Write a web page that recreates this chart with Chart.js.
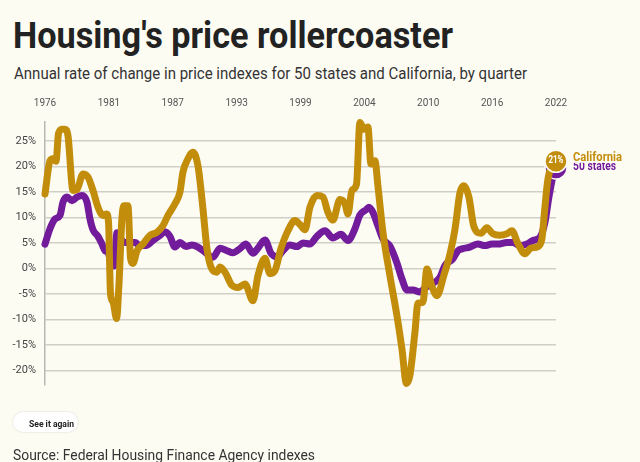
<!DOCTYPE html>
<html><head><meta charset="utf-8">
<script src="https://cdn.jsdelivr.net/npm/chart.js@4.4.0/dist/chart.umd.min.js"></script>
<style>
html,body{margin:0;padding:0;background:#FDFCF3;width:640px;height:462px;overflow:hidden;font-family:Roboto, sans-serif;}
.t{position:absolute;white-space:nowrap;transform-origin:0 0;line-height:1;display:inline-block;}
#title{left:13px;top:16.7px;font-size:37.5px;font-weight:700;color:#222;}
#sub{left:14px;top:65.5px;font-size:16px;color:#333;}
#src{left:13px;top:447.5px;font-size:14px;color:#333;}
#btn{position:absolute;left:13px;top:412px;width:65px;height:20px;border-radius:10px;background:#fff;box-shadow:0 0 2px rgba(0,0,0,0.18);}
#btnt{left:29px;top:418.8px;font-size:9.4px;font-weight:700;color:#222;}
#wrap{position:absolute;left:0;top:92px;width:640px;height:320px;}
canvas{display:block;}
</style></head>
<body>
<div id="title" class="t">Housing's price rollercoaster</div>
<div id="sub" class="t">Annual rate of change in price indexes for 50 states and California, by quarter</div>
<div id="wrap"><canvas id="c" width="640" height="320"></canvas></div>
<div id="btn"></div>
<div id="btnt" class="t">See it again</div>
<div id="src" class="t">Source: Federal Housing Finance Agency indexes</div>
<script>
// ---- data ----
const seriesNames = ['California', '50 states'];
const caYears = [1976.00,1976.45,1976.72,1976.99,1977.22,1977.53,1977.80,1978.07,1978.52,1978.88,1979.42,1979.87,1980.32,1980.77,1981.22,1981.54,1981.72,1981.90,1982.12,1982.44,1982.66,1982.93,1983.11,1983.47,1983.70,1983.92,1984.28,1984.82,1985.45,1986.08,1986.62,1987.07,1987.70,1988.15,1988.42,1988.87,1989.32,1989.77,1990.22,1990.58,1991.03,1991.48,1991.75,1992.20,1992.83,1993.37,1994.00,1994.72,1995.17,1995.80,1996.25,1996.70,1997.24,1997.87,1998.50,1999.04,1999.40,1999.85,2000.48,2001.02,2001.47,2001.92,2002.55,2003.00,2003.27,2003.63,2004.04,2004.35,2004.71,2005.07,2005.34,2005.70,2005.97,2006.42,2007.05,2007.68,2008.13,2008.54,2008.85,2009.30,2009.57,2010.02,2010.38,2010.83,2011.28,2011.91,2012.45,2012.90,2013.35,2013.71,2014.16,2014.61,2015.24,2015.78,2016.32,2016.95,2017.58,2018.03,2018.57,2019.20,2019.74,2020.37,2020.73,2021.00,2021.27,2021.63,2022.00];
const caValues = [14.6,21.1,21.5,21.0,26.5,27.3,27.3,26.0,15.3,15.5,18.5,17.9,15.3,12.0,10.4,10.7,9.0,-5.0,-6.5,-9.8,-3.0,10.0,12.3,12.3,2.0,1.0,3.5,4.8,6.5,7.1,8.4,10.4,12.7,15.0,18.9,21.5,22.8,20.1,11.7,3.9,-0.1,-0.7,0.3,-0.7,-3.3,-3.7,-3.0,-6.3,-1.4,2.0,-1.0,-0.4,3.9,7.4,9.4,8.4,7.6,12.0,14.3,14.0,11.0,9.5,13.5,12.7,10.7,15.3,16.5,28.6,27.3,27.7,20.5,21.1,16.2,7.1,-1.4,-9.2,-15.7,-22.5,-20.9,-12.5,-6.8,-6.6,-0.1,-3.5,-5.3,-1.3,2.8,7.6,14.8,16.2,14.0,8.2,6.9,8.0,6.8,6.5,6.8,7.4,4.9,2.9,4.0,4.3,5.8,12.0,17.5,20.0,21.0];
const usYears = [1976.00,1976.45,1976.90,1977.35,1977.62,1977.98,1978.43,1978.88,1979.33,1979.78,1980.05,1980.32,1980.77,1981.13,1981.40,1981.67,1981.94,1982.21,1982.48,1982.75,1983.20,1984.10,1984.55,1985.09,1985.72,1986.35,1986.80,1987.25,1987.70,1988.15,1988.69,1989.23,1989.77,1990.40,1991.12,1991.75,1992.38,1992.92,1993.55,1994.09,1994.72,1995.17,1995.80,1996.34,1996.88,1997.42,1998.05,1998.68,1999.22,1999.85,2000.48,2001.20,2001.92,2002.64,2003.27,2003.90,2004.35,2004.89,2005.16,2005.52,2005.97,2006.42,2007.05,2007.68,2008.13,2008.58,2009.12,2009.75,2010.20,2010.83,2011.55,2012.00,2012.72,2013.17,2013.62,2014.25,2014.97,2015.60,2016.23,2016.77,2017.58,2018.12,2018.75,2019.38,2019.92,2020.55,2021.00,2021.36,2021.72,2022.00];
const usValues = [4.8,7.8,9.7,10.4,13.0,14.0,13.3,14.0,14.3,13.0,9.7,7.6,6.3,4.8,3.5,3.2,1.0,0.5,7.0,6.0,5.1,5.1,4.5,4.5,5.5,6.5,7.2,6.3,4.2,5.1,4.3,4.6,4.2,3.2,2.2,4.0,3.5,3.1,3.9,4.8,3.0,4.0,5.6,3.0,2.3,3.5,4.6,4.3,5.0,4.8,6.3,7.4,6.0,6.7,5.5,7.8,10.5,11.5,12.0,11.0,8.4,5.8,4.4,1.1,-2.0,-4.2,-4.2,-4.6,-3.8,-3.0,-1.7,0.6,1.9,3.5,3.9,4.2,4.8,4.5,4.8,4.8,5.1,5.1,4.5,4.8,5.5,6.1,9.0,14.0,18.0,19.7];
const xTickLabels = ['1976','1981','1987','1993','1999','2004','2010','2016','2022'];
const yTickValues = [-20,-15,-10,-5,0,5,10,15,20,25];

const GOLD = '#C38D0C', PURPLE = '#721C9C', BG = '#FDFCF3';

function fit(id, w){ const e=document.getElementById(id); const r=e.getBoundingClientRect().width; e.style.transform='scaleX('+(w/r)+')'; }
fit('title', 440); fit('sub', 513); fit('src', 302); fit('btnt', 45);

const toPts = (xs, ys) => xs.map((x, i) => ({x: x, y: ys[i]}));
const xMin = +xTickLabels[0], xMax = +xTickLabels[xTickLabels.length-1];

const endLabels = {
  id: 'endLabels',
  afterDatasetsDraw(chart) {
    const c = chart.ctx;
    const ca = chart.getDatasetMeta(0).data; const us = chart.getDatasetMeta(1).data;
    const pc = ca[ca.length-1], pu = us[us.length-1];
    c.save();
    c.textBaseline = 'middle'; c.textAlign = 'left';
    c.font = 'bold 12px Roboto';
    c.fillStyle = PURPLE;
    c.fillText(seriesNames[1], pu.x + 17, pu.y - 1, 43);
    c.fillStyle = BG;
    c.fillRect(pc.x + 13, pc.y - 10, 60, 11.5);
    c.fillStyle = GOLD;
    c.fillText(seriesNames[0], pc.x + 17, pc.y - 3, 49);
    c.textAlign = 'center';
    c.fillStyle = '#fff';
    c.font = 'bold 10px Roboto';
    c.fillText(Math.round(caValues[caValues.length-1]) + '%', pc.x, pc.y - 1, 15);
    c.restore();
  }
};

const lastR = (n) => (ctx) => ctx.dataIndex === n - 1 ? 11 : 0;
const pad = { left: 0, right: 84, top: 0, bottom: 27 };

const chart = new Chart(document.getElementById('c'), {
  type: 'line',
  data: { datasets: [
    { label: seriesNames[0], data: toPts(caYears, caValues), borderColor: GOLD, backgroundColor: GOLD,
      borderWidth: 7, pointRadius: lastR(caValues.length), pointHoverRadius: 0, pointBorderColor: BG, pointBorderWidth: 1.5,
      cubicInterpolationMode: 'monotone', borderCapStyle: 'round', borderJoinStyle: 'round', order: 1, clip: false },
    { label: seriesNames[1], data: toPts(usYears, usValues), borderColor: PURPLE, backgroundColor: PURPLE,
      borderWidth: 7, pointRadius: lastR(usValues.length), pointHoverRadius: 0, pointBorderColor: BG, pointBorderWidth: 1.5,
      cubicInterpolationMode: 'monotone', borderCapStyle: 'round', borderJoinStyle: 'round', order: 2, clip: false }
  ]},
  options: {
    responsive: false, animation: false, events: [],
    layout: { autoPadding: false, padding: () => pad },
    plugins: { legend: { display: false }, tooltip: { enabled: false } },
    scales: {
      x: { type: 'linear', position: 'top', min: xMin, max: xMax,
        grid: { display: false, drawTicks: false }, border: { display: false },
        afterBuildTicks: s => { s.ticks = xTickLabels.map((l, i) => ({ value: xMin + i * (xMax - xMin) / (xTickLabels.length - 1) })); },
        afterFit: s => { s.height = 30; },
        ticks: { autoSkip: false, maxRotation: 0, padding: 13, color: '#555', font: { family: 'Roboto', size: 10 },
          callback: (v, i) => xTickLabels[i] } },
      y: { min: -22.8, max: 28.7,
        afterBuildTicks: s => { s.ticks = yTickValues.map(v => ({ value: v })); },
        afterFit: s => { s.width = 45; },
        grid: { color: '#d0cfc7', lineWidth: 1.5, drawTicks: false },
        border: { display: true, color: '#b8b8b2', width: 1.5 },
        ticks: { padding: 9, color: '#444', font: { family: 'Roboto', size: 11 }, callback: v => v + '%' } }
    }
  },
  plugins: [endLabels]
});

// keep the plot area where it sits in the reference
const target = { left: 45, top: 30, right: 556, bottom: 293 };
for (let k = 0; k < 4; k++) {
  const a = chart.chartArea;
  const dT = target.top - a.top, dB = a.bottom - target.bottom, dL = target.left - a.left, dR = a.right - target.right;
  if (Math.abs(dT) < 0.3 && Math.abs(dB) < 0.3 && Math.abs(dL) < 0.3 && Math.abs(dR) < 0.3) break;
  pad.top = Math.max(0, pad.top + dT); pad.bottom = Math.max(0, pad.bottom + dB);
  pad.left = Math.max(0, pad.left + dL); pad.right = Math.max(0, pad.right + dR);
  chart.update('none');
}
</script>
</body></html>
